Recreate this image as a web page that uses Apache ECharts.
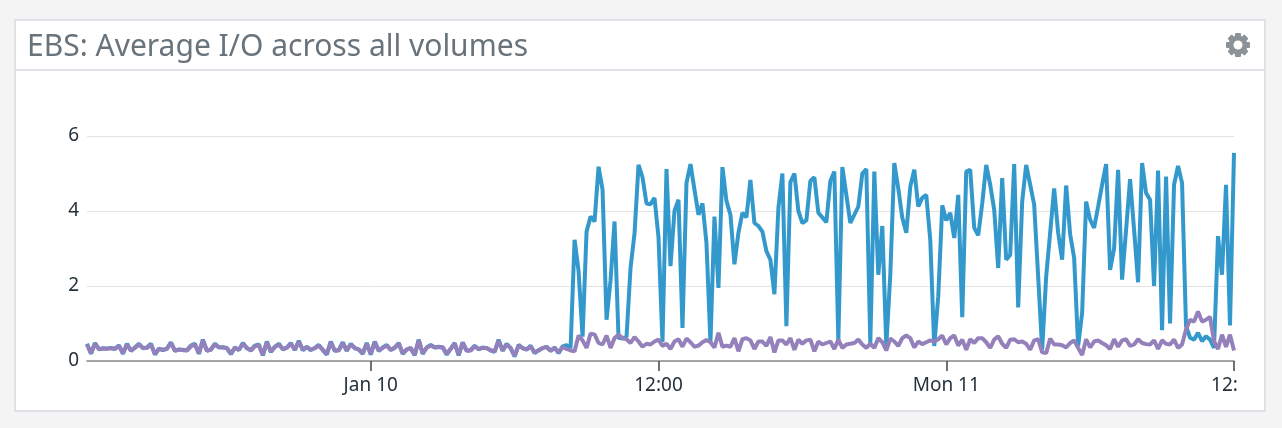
<!DOCTYPE html>
<html><head><meta charset="utf-8">
<style>html,body{margin:0;padding:0;background:#f4f4f4}#c{width:1282px;height:428px}</style>
<script src="https://cdn.jsdelivr.net/npm/echarts@6/dist/echarts.min.js"></script></head>
<body><div id="c"></div>
<script>
const titleText = 'EBS: Average I/O across all volumes';
const yTicks = [0, 2, 4, 6];
const tickLabels = {71: 'Jan 10', 143: '12:00', 215: 'Mon 11', 287: '12:'};
const purple = [
.44,.21,.46,.32,.33,.33,.34,.33,.40,.21,.44,.28,.35,.44,.35,.35,.44,.19,.32,.30,.32,.48,.28,.30,.30,.28,.39,.44,.21,.55,
.28,.30,.44,.37,.36,.35,.20,.35,.30,.46,.35,.28,.39,.42,.17,.50,.26,.37,.44,.32,.35,.46,.30,.52,.30,.37,.30,.34,.41,.30,
.19,.50,.28,.28,.48,.28,.44,.35,.30,.21,.46,.19,.50,.28,.35,.41,.30,.35,.46,.21,.30,.35,.17,.55,.21,.35,.41,.37,.37,.37,
.19,.32,.46,.17,.48,.28,.28,.39,.32,.35,.35,.28,.26,.55,.28,.44,.35,.14,.41,.35,.30,.39,.23,.28,.35,.37,.28,.35,.23,.37,
.32,.28,.26,.68,.55,.35,.73,.71,.48,.44,.68,.35,.61,.70,.61,.58,.48,.64,.52,.38,.46,.44,.52,.57,.40,.46,.32,.52,.58,.38,
.60,.50,.38,.41,.50,.56,.50,.36,.75,.38,.41,.38,.61,.26,.58,.61,.55,.32,.52,.52,.40,.64,.23,.55,.55,.44,.61,.30,.57,.46,
.55,.57,.26,.52,.44,.48,.52,.32,.57,.35,.44,.46,.48,.57,.44,.35,.46,.35,.61,.50,.28,.60,.52,.40,.61,.68,.61,.36,.52,.45,
.50,.55,.52,.58,.68,.44,.61,.68,.41,.57,.30,.58,.48,.61,.61,.50,.35,.57,.66,.46,.35,.57,.58,.50,.52,.46,.30,.55,.58,.23,
.21,.60,.44,.44,.42,.36,.48,.55,.35,.16,.58,.36,.52,.55,.48,.42,.32,.58,.38,.55,.58,.40,.44,.58,.48,.45,.44,.55,.32,.55,
.46,.44,.57,.35,.44,.84,1.10,1.05,1.32,1.05,1.10,1.18,.52,.32,.70,.38,.70,.28
];
const blue = [
.46,.19,.48,.31,.34,.33,.35,.32,.42,.19,.46,.27,.36,.46,.34,.36,.46,.17,.33,.29,.33,.50,.27,.31,.29,.29,.41,.46,.19,.57,
.27,.31,.46,.36,.37,.34,.18,.36,.29,.48,.34,.29,.41,.44,.15,.52,.24,.38,.46,.31,.36,.48,.29,.54,.29,.38,.29,.35,.43,.29,
.17,.52,.27,.29,.50,.27,.46,.34,.31,.19,.48,.17,.52,.27,.36,.43,.29,.36,.48,.19,.31,.34,.15,.57,.19,.36,.43,.36,.38,.36,
.17,.33,.48,.15,.50,.27,.29,.41,.31,.36,.34,.29,.24,.57,.27,.46,.34,.12,.43,.34,.31,.41,.21,.29,.34,.38,.27,.36,.21,.39,
.42,.35,3.23,2.40,.65,3.45,3.85,3.72,5.18,4.57,1.10,2.15,3.72,.62,.60,.65,2.48,3.40,5.23,4.90,4.20,4.18,4.35,3.30,.50,5.12,2.53,4.00,4.30,.88,
4.75,5.25,4.57,3.90,4.20,3.15,.50,3.85,1.95,5.17,4.27,3.90,2.58,3.42,3.95,3.83,4.83,3.68,3.60,3.45,2.93,2.70,1.78,4.08,5.00,.93,4.77,5.00,4.00,3.68,
3.75,4.80,4.90,3.95,3.83,3.70,4.80,5.05,.55,5.17,4.43,3.68,3.90,4.12,5.00,5.12,.48,5.05,2.30,3.60,.40,2.30,5.28,4.60,3.82,3.42,4.65,5.10,4.12,4.35,
4.43,3.23,.40,1.73,4.15,3.75,3.95,3.28,4.43,1.17,5.05,5.10,3.55,3.35,4.20,5.23,4.70,4.03,2.48,4.88,2.70,2.83,5.25,1.43,4.25,5.23,4.70,4.17,2.25,.30,
2.25,3.42,4.60,3.42,2.70,4.68,3.38,2.75,.40,1.28,4.25,3.77,3.55,4.12,4.70,5.25,2.43,3.00,5.10,2.17,3.50,4.85,3.50,2.10,5.28,4.48,4.30,2.00,5.08,.82,
4.92,1.00,4.70,5.20,4.75,.93,.62,.57,.75,.53,.66,.57,.35,3.33,2.30,4.70,.95,5.55
];
const categories = purple.map((_, i) => String(i));

const chart = echarts.init(document.getElementById('c'), null, {renderer: 'canvas'});
const gearTeeth = [0,45,90,135].map(a => ({
  type: 'rect', x: 1238, y: 45, rotation: a * Math.PI / 180,
  shape: {x: -3, y: -12, width: 6, height: 24, r: 1},
  style: {fill: '#8b9398'}, z: 5
}));
chart.setOption({
  animation: false,
  backgroundColor: '#f4f4f4',
  grid: {left: 87, right: 48, top: 136, height: 225},
  graphic: [
    {type: 'rect', shape: {x: 15, y: 20, width: 1250, height: 391}, style: {fill: '#fff', stroke: '#e0e0e6', lineWidth: 2}, z: -1},
    {type: 'line', shape: {x1: 15, y1: 70, x2: 1265, y2: 70}, style: {stroke: '#e0e0e6', lineWidth: 2}, z: 0},
    {type: 'text', x: 27, y: 32, style: {text: titleText, font: '30px "Noto Sans"', fill: '#68737b'}, z: 5},
    ...gearTeeth,
    {type: 'circle', shape: {cx: 1238, cy: 45, r: 7}, style: {fill: '#fff', stroke: '#8b9398', lineWidth: 5}, z: 6}
  ],
  xAxis: {
    type: 'category', data: categories, boundaryGap: false,
    axisLine: {lineStyle: {color: '#8a8a8a', width: 1.5}},
    axisTick: {interval: i => i in tickLabels, length: 10, lineStyle: {color: '#444', width: 1.5}},
    axisLabel: {
      interval: i => i in tickLabels, color: '#25323c', fontSize: 19, fontFamily: 'Noto Sans', margin: 15,
      showMaxLabel: true, hideOverlap: false,
      formatter: (v, i) => i === 287 ? '{a|' + tickLabels[i] + '}' : (tickLabels[i] || ''),
      rich: {a: {color: '#25323c', fontSize: 19, fontFamily: 'Noto Sans', padding: [0, 19, 0, 0]}}
    },
    splitLine: {show: false}
  },
  yAxis: {
    type: 'value', min: yTicks[0], max: yTicks[3], interval: 2,
    axisLine: {show: false}, axisTick: {show: false},
    axisLabel: {color: '#25323c', fontSize: 19, fontFamily: 'Noto Sans', margin: 8},
    splitLine: {lineStyle: {color: '#e2e2e2', width: 1}}
  },
  series: [
    {type: 'line', data: blue, showSymbol: false, smooth: false, lineStyle: {color: '#3399cc', width: 4}, clip: false},
    {type: 'line', data: purple, showSymbol: false, smooth: false, lineStyle: {color: '#9480bb', width: 4}, clip: false}
  ]
});
</script></body></html>
